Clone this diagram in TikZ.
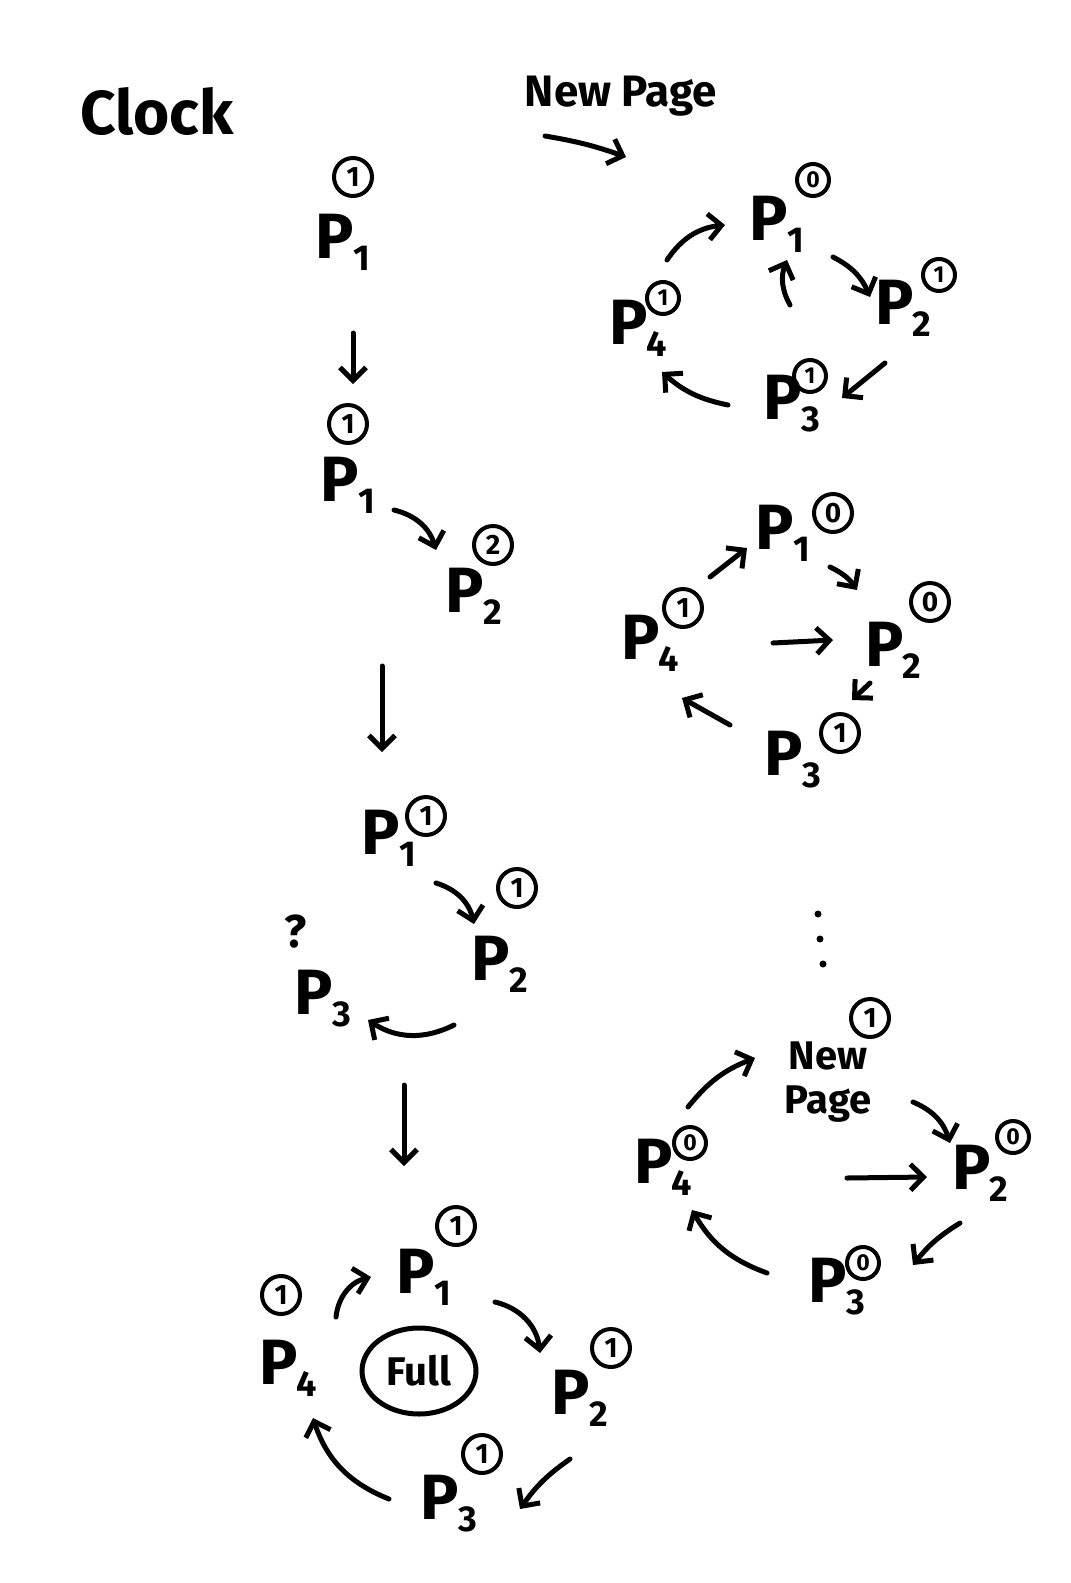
\documentclass[tikz,border=0pt]{standalone}
\usepackage{fontspec}
\setmainfont{Fira Sans}
\usetikzlibrary{arrows.meta,shapes.geometric}
\newcommand\Pn[1]{P\kern-1pt\raisebox{-12pt}{\fontsize{36}{36}\selectfont #1}}
\tikzset{
 pen/.style={line width=5pt,line cap=round,line join=round},
 arr/.style={pen,-{Straight Barb[length=13pt,width=26pt]}},
 plbl/.style={inner sep=0pt,font=\fontsize{64}{64}\selectfont\bfseries},
 cnum/.style={circle,draw,line width=4pt,minimum size=38pt,inner sep=0pt,font=\fontsize{28}{28}\selectfont\bfseries},
 csm/.style={cnum,minimum size=32pt,font=\fontsize{23}{23}\selectfont\bfseries},
 ttl/.style={inner sep=0pt,font=\fontsize{62}{62}\selectfont\bfseries},
 dotm/.style={circle,fill,inner sep=0pt,minimum size=7pt},
}
\begin{document}
\begin{tikzpicture}[x=1pt,y=1pt]
\path[use as bounding box,fill=white] (0,0) rectangle (1071,-1583);
% titles
\node[ttl] (clock) at (157,-111) {Clock};
\node[ttl,font=\fontsize{44}{44}\selectfont\bfseries] (newpage) at (621,-96) {New Page};
\coordinate (t0) at (545,-136); \coordinate (t1) at (626,-157);
\draw[arr] (t0) to[bend left=5] (t1);

% ---------- left column ----------
\node[cnum] (l1c) at (353,-177) {1};
\node[plbl] (l1p) at (343,-242) {\Pn{1}};
\coordinate (d1s) at (353,-333); \coordinate (d1e) at (353,-384);
\draw[arr] (d1s) -- (d1e);

\node[cnum] (l2c1) at (348,-424) {1};
\node[plbl] (l2p1) at (348,-485) {\Pn{1}};
\node[cnum] (l2c2) at (493,-545) {2};
\node[plbl] (l2p2) at (474,-596) {\Pn{2}};
\coordinate (e1s) at (394,-510); \coordinate (e1e) at (436,-550);
\draw[arr] (e1s) to[bend left=30] (e1e);
\coordinate (d2s) at (382,-666); \coordinate (d2e) at (382,-752);
\draw[arr] (d2s) -- (d2e);

\node[plbl] (l3p1) at (389,-838) {\Pn{1}};
\node[cnum] (l3c1) at (426,-816) {1};
\node[cnum] (l3c2) at (517,-888) {1};
\node[plbl] (l3p2) at (500,-964) {\Pn{2}};
\node[inner sep=0pt,font=\fontsize{46}{46}\selectfont\bfseries] (l3q) at (296,-932) {?};
\node[plbl] (l3p3) at (323,-999) {\Pn{3}};
\coordinate (e2s) at (436,-883); \coordinate (e2e) at (474,-924);
\draw[arr] (e2s) to[bend left=30] (e2e);
\coordinate (e3s) at (454,-1025); \coordinate (e3e) at (368,-1020);
\draw[arr] (e3s) to[bend left=30] (e3e);
\coordinate (d3s) at (404,-1085); \coordinate (d3e) at (404,-1166);
\draw[arr] (d3s) -- (d3e);

% bottom full clock
\node[plbl] (b1) at (424,-1277) {\Pn{1}};
\node[cnum] (b1c) at (456,-1226) {1};
\node[plbl] (b4) at (288,-1368) {\Pn{4}};
\node[cnum] (b4c) at (281,-1295) {1};
\node[plbl] (b2) at (580,-1398) {\Pn{2}};
\node[cnum] (b2c) at (611,-1348) {1};
\node[plbl] (b3) at (449,-1504) {\Pn{3}};
\node[cnum] (b3c) at (482,-1454) {1};
\node[ellipse,draw,line width=5pt,minimum width=114pt,minimum height=86pt,inner sep=0pt,font=\fontsize{40}{40}\selectfont\bfseries] (full) at (419,-1371) {Full};
\coordinate (f1s) at (336,-1317); \coordinate (f1e) at (371,-1277);
\draw[arr] (f1s) to[bend left=35] (f1e);
\coordinate (f2s) at (495,-1302); \coordinate (f2e) at (540,-1353);
\draw[arr] (f2s) to[bend left=35] (f2e);
\coordinate (f3s) at (570,-1459); \coordinate (f3e) at (520,-1509);
\draw[arr] (f3s) to[bend right=10] (f3e);
\coordinate (f4s) at (389,-1499); \coordinate (f4e) at (313,-1418);
\draw[arr] (f4s) to[bend left=25] (f4e);

% ---------- right cluster 1 ----------
\node[plbl] (r1p1) at (777,-224) {\Pn{1}};
\node[csm] (r1c1) at (813,-180) {0};
\node[plbl] (r1p2) at (903,-308) {\Pn{2}};
\node[csm] (r1c2) at (939,-275) {1};
\node[plbl] (r1p3) at (792,-404) {\Pn{3}};
\node[csm] (r1c3) at (810,-376) {1};
\node[plbl] (r1p4) at (638,-328) {\Pn{4}};
\node[csm] (r1c4) at (663,-298) {1};
\coordinate (g1s) at (667,-260); \coordinate (g1e) at (725,-225);
\draw[arr] (g1s) to[bend left=25] (g1e);
\coordinate (g2s) at (833,-257); \coordinate (g2e) at (870,-297);
\draw[arr] (g2s) to[bend left=20] (g2e);
\coordinate (g3s) at (885,-363); \coordinate (g3e) at (842,-398);
\draw[arr] (g3s) -- (g3e);
\coordinate (g4s) at (728,-405); \coordinate (g4e) at (662,-372);
\draw[arr] (g4s) to[bend left=15] (g4e);
\coordinate (g5s) at (790,-305); \coordinate (g5e) at (787,-260);
\draw[arr] (g5s) to[bend left=25] (g5e);

% ---------- right cluster 2 ----------
\node[plbl] (r2p1) at (783,-533) {\Pn{1}};
\node[cnum] (r2c1) at (833,-513) {0};
\node[plbl] (r2p2) at (893,-650) {\Pn{2}};
\node[cnum] (r2c2) at (930,-602) {0};
\node[plbl] (r2p3) at (793,-760) {\Pn{3}};
\node[cnum] (r2c3) at (840,-733) {1};
\node[plbl] (r2p4) at (650,-643) {\Pn{4}};
\node[cnum] (r2c4) at (683,-608) {1};
\coordinate (h1s) at (710,-577); \coordinate (h1e) at (747,-548);
\draw[arr] (h1s) -- (h1e);
\coordinate (h2s) at (830,-567); \coordinate (h2e) at (857,-590);
\draw[arr] (h2s) to[bend left=15] (h2e);
\coordinate (h3s) at (773,-643); \coordinate (h3e) at (833,-640);
\draw[arr] (h3s) -- (h3e);
\coordinate (h4s) at (870,-683); \coordinate (h4e) at (852,-700);
\draw[arr] (h4s) -- (h4e);
\coordinate (h5s) at (730,-725); \coordinate (h5e) at (682,-698);
\draw[arr] (h5s) -- (h5e);

% dots
\node[dotm] (dt1) at (818,-914) {};
\node[dotm] (dt2) at (820,-939) {};
\node[dotm] (dt3) at (823,-964) {};

% ---------- right cluster 3 ----------
\node[inner sep=0pt,align=center,font=\fontsize{40}{44}\selectfont\bfseries] (r3np) at (828,-1082) {New\\Page};
\node[cnum] (r3c1) at (870,-1018) {1};
\node[plbl] (r3p2) at (980,-1173) {\Pn{2}};
\node[csm] (r3c2) at (1013,-1137) {0};
\node[plbl] (r3p3) at (837,-1287) {\Pn{3}};
\node[csm] (r3c3) at (863,-1263) {0};
\node[plbl] (r3p4) at (663,-1167) {\Pn{4}};
\node[csm] (r3c4) at (690,-1143) {0};
\coordinate (k1s) at (688,-1107); \coordinate (k1e) at (755,-1058);
\draw[arr] (k1s) to[bend left=15] (k1e);
\coordinate (k2s) at (913,-1102); \coordinate (k2e) at (950,-1143);
\draw[arr] (k2s) to[bend left=25] (k2e);
\coordinate (k3s) at (847,-1178); \coordinate (k3e) at (927,-1177);
\draw[arr] (k3s) -- (k3e);
\coordinate (k4s) at (960,-1223); \coordinate (k4e) at (913,-1265);
\draw[arr] (k4s) to[bend right=10] (k4e);
\coordinate (k5s) at (767,-1273); \coordinate (k5e) at (692,-1210);
\draw[arr] (k5s) to[bend left=20] (k5e);
\end{tikzpicture}
\end{document}
